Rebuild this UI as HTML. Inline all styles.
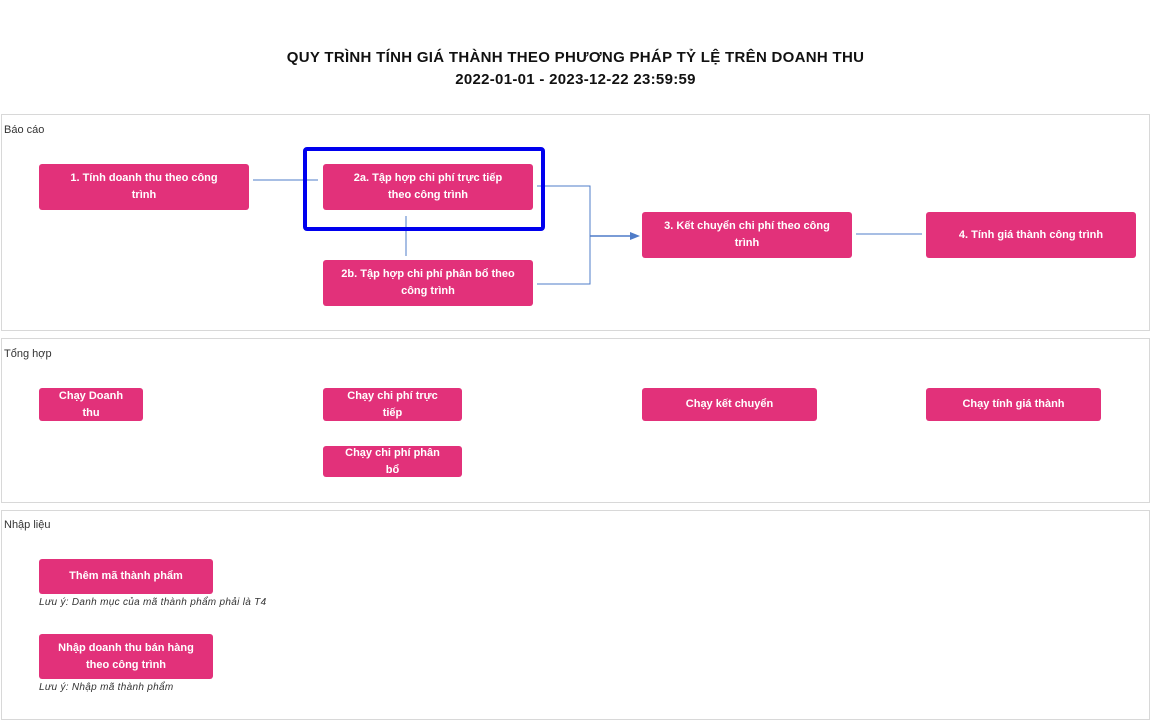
<!DOCTYPE html>
<html><head><meta charset="utf-8"><style>
body{margin:0;width:1151px;height:706px;background:#fff;position:relative;overflow:hidden;font-family:"Liberation Sans","DejaVu Sans",sans-serif;}
.t{position:absolute;left:0;width:1151px;text-align:center;font-weight:bold;font-size:15px;letter-spacing:0.3px;color:#111;}
.p{position:absolute;left:1px;width:1149px;border:1px solid #d8d8d8;box-sizing:border-box;}
.lb{position:absolute;left:4px;font-size:11px;color:#333;}
.b{position:absolute;background:#e2317a;color:#fff;font-weight:bold;font-size:11px;line-height:17px;border-radius:3px;display:flex;align-items:center;justify-content:center;text-align:center;box-sizing:border-box;padding:0 8px;}
.n{position:absolute;left:39px;font-size:10px;font-style:italic;color:#333;letter-spacing:0.3px;}
</style></head><body>
<div class="t" style="top:49px">QUY TRÌNH TÍNH GIÁ THÀNH THEO PHƯƠNG PHÁP TỶ LỆ TRÊN DOANH THU</div>
<div class="t" style="top:71px">2022-01-01 - 2023-12-22 23:59:59</div>

<div class="p" style="top:114px;height:217px"></div>
<div class="lb" style="top:124px">Báo cáo</div>
<div class="p" style="top:338px;height:165px"></div>
<div class="lb" style="top:348px">Tổng hợp</div>
<div class="p" style="top:510px;height:210px"></div>
<div class="lb" style="top:519px">Nhập liệu</div>

<svg style="position:absolute;left:0;top:0" width="1151" height="706">
<g stroke="#4f7cc8" stroke-width="1" fill="none">
<line x1="253" y1="180" x2="318" y2="180"/>
<line x1="406" y1="216" x2="406" y2="256"/>
<polyline points="537,186 590,186 590,284 537,284"/>
<line x1="590" y1="236" x2="634" y2="236" stroke-width="1.5"/>
<line x1="856" y1="234" x2="922" y2="234"/>
</g>
<polygon points="640,236 630,232 630,240" fill="#4f7cc8"/>
<rect x="305" y="149" width="238" height="80" fill="none" stroke="#0000ee" stroke-width="4" rx="2"/>
</svg>

<div class="b" style="left:39px;top:164px;width:210px;height:46px">1. Tính doanh thu theo công<br>trình</div>
<div class="b" style="left:323px;top:164px;width:210px;height:46px">2a. Tập hợp chi phí trực tiếp<br>theo công trình</div>
<div class="b" style="left:323px;top:260px;width:210px;height:46px">2b. Tập hợp chi phí phân bổ theo<br>công trình</div>
<div class="b" style="left:642px;top:212px;width:210px;height:46px">3. Kết chuyển chi phí theo công<br>trình</div>
<div class="b" style="left:926px;top:212px;width:210px;height:46px">4. Tính giá thành công trình</div>

<div class="b" style="left:39px;top:388px;width:104px;height:33px">Chạy Doanh<br>thu</div>
<div class="b" style="left:323px;top:388px;width:139px;height:33px">Chạy chi phí trực<br>tiếp</div>
<div class="b" style="left:323px;top:446px;width:139px;height:31px">Chạy chi phí phân<br>bổ</div>
<div class="b" style="left:642px;top:388px;width:175px;height:33px">Chạy kết chuyển</div>
<div class="b" style="left:926px;top:388px;width:175px;height:33px">Chạy tính giá thành</div>

<div class="b" style="left:39px;top:559px;width:174px;height:35px">Thêm mã thành phẩm</div>
<div class="n" style="top:597px">Lưu ý: Danh mục của mã thành phẩm phải là T4</div>
<div class="b" style="left:39px;top:634px;width:174px;height:45px">Nhập doanh thu bán hàng<br>theo công trình</div>
<div class="n" style="top:682px">Lưu ý: Nhập mã thành phẩm</div>
</body></html>
